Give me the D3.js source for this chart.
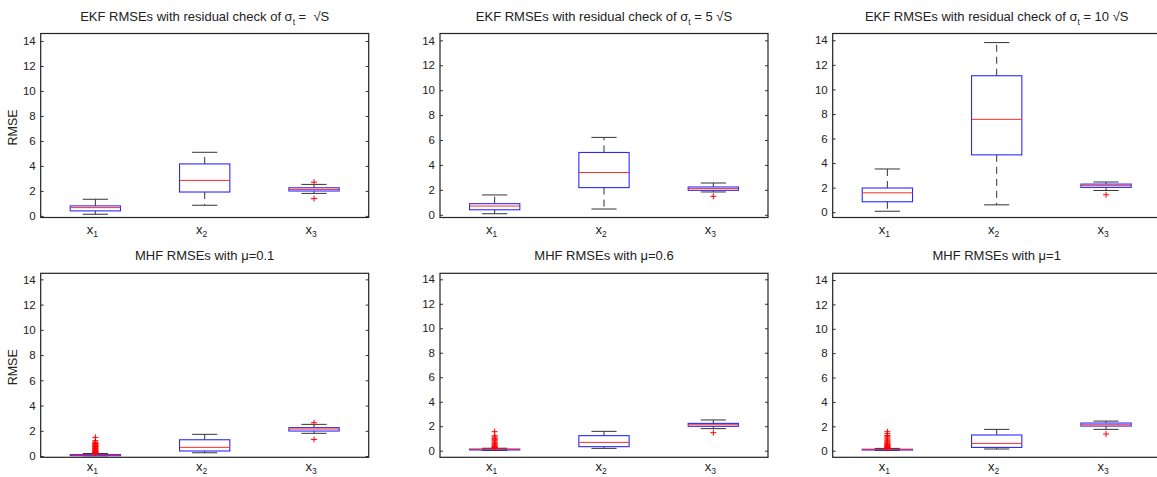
<!DOCTYPE html>
<html lang="en">
<head>
  <meta charset="UTF-8" />
  <title>RMSE boxplots</title>
  <script src="https://cdn.jsdelivr.net/npm/d3@7"></script>
  <style>
    body { margin: 0; background: #fff; }
    text { font-family: "Liberation Sans", Arial, Helvetica, sans-serif; fill: #222; }
  </style>
</head>
<body>
<script>
  // categories on the x axis
  const categories = ["1", "2", "3"];
  const yTicks = [0, 2, 4, 6, 8, 10, 12, 14];

  // panel titles: [text before subscript, subscript, text after]
  const titles = [
    ["EKF RMSEs with residual check of \u03c3", "t", " =\u00a0 \u221aS"],
    ["EKF RMSEs with residual check of \u03c3", "t", " = 5 \u221aS"],
    ["EKF RMSEs with residual check of \u03c3", "t", " = 10 \u221aS"],
    ["MHF RMSEs with \u03bc=0.1", "", ""],
    ["MHF RMSEs with \u03bc=0.6", "", ""],
    ["MHF RMSEs with \u03bc=1", "", ""]
  ];

  // y limits of each panel
  const yLo = [-0.13, -0.22, -0.43, -0.1, -0.54, -0.54];
  const yHi = [14.6, 14.55, 14.55, 14.48, 14.49, 14.55];

  // box stats per category: [lower whisker, q1, median, q3, upper whisker]
  const ekf1 = [[0.13, 0.4, 0.66, 0.8, 1.33], [0.85, 1.91, 2.84, 4.16, 5.09], [1.8, 1.99, 2.12, 2.25, 2.52]];
  const ekf5 = [[0.08, 0.4, 0.7, 0.89, 1.59], [0.46, 2.18, 3.39, 5.0, 6.21], [1.83, 1.96, 2.1, 2.23, 2.55]];
  const ekf10 = [[0.08, 0.85, 1.58, 1.97, 3.52], [0.6, 4.67, 7.56, 11.11, 13.81], [1.77, 2.02, 2.16, 2.29, 2.46]];
  const mhf01 = [[0.02, 0.03, 0.08, 0.12, 0.2], [0.26, 0.4, 0.69, 1.29, 1.72], [1.8, 1.98, 2.14, 2.25, 2.51]];
  const mhf06 = [[0.02, 0.06, 0.1, 0.13, 0.2], [0.19, 0.33, 0.68, 1.23, 1.58], [1.8, 1.99, 2.12, 2.23, 2.51]];
  const mhf1 = [[0.02, 0.06, 0.09, 0.12, 0.19], [0.14, 0.27, 0.6, 1.29, 1.75], [1.75, 2.02, 2.13, 2.27, 2.43]];

  // outliers per category
  const ekf1Out = [[], [], [2.7, 1.38]];
  const ekf5Out = [[], [], [1.48]];
  const ekf10Out = [[], [], [1.42]];
  const mhf01Out = [[0.22, 0.25, 0.28, 0.31, 0.34, 0.38, 0.42, 0.46, 0.5, 0.55, 0.6, 0.65, 0.7, 0.75, 0.8, 0.85, 0.9, 0.95, 1.0, 1.05, 1.1, 1.22, 1.48], [], [2.64, 1.32]];
  const mhf06Out = [[0.22, 0.26, 0.3, 0.35, 0.4, 0.48, 0.55, 0.62, 0.7, 0.8, 0.88, 0.95, 1.02, 1.12, 1.22, 1.55], [], [1.47]];
  const mhf1Out = [[0.2, 0.24, 0.28, 0.32, 0.36, 0.4, 0.45, 0.5, 0.56, 0.62, 0.7, 0.78, 0.86, 0.95, 1.05, 1.15, 1.25, 1.4, 1.56], [], [1.37]];

  const stats = [ekf1, ekf5, ekf10, mhf01, mhf06, mhf1];
  const outliers = [ekf1Out, ekf5Out, ekf10Out, mhf01Out, mhf06Out, mhf1Out];

  const width = 1157, height = 477;
  const colLeft = [40.7, 440, 832.7];
  const rowTop = [33.5, 273.3];
  const plotW = 328, plotH = 184;
  const boxW = 0.46;

  const svg = d3.select("body").append("svg")
    .attr("width", width).attr("height", height);

  stats.forEach((panel, p) => {
    const col = p % 3, row = Math.floor(p / 3);
    const g = svg.append("g")
      .attr("transform", `translate(${colLeft[col]},${rowTop[row]})`);

    const x = d3.scaleLinear().domain([0.5, 3.5]).range([0, plotW]);
    const y = d3.scaleLinear().domain([yLo[p], yHi[p]]).range([plotH, 0]);

    // left axis with inward ticks
    const ay = g.append("g")
      .call(d3.axisLeft(y).tickValues(yTicks).tickSize(-3).tickPadding(5).tickFormat(d3.format("d")));
    ay.select(".domain").remove();
    ay.selectAll("line").attr("stroke", "#333");
    ay.selectAll("text").style("font-size", "11.5px").attr("fill", "#222");

    // right side ticks
    const ar = g.append("g").attr("transform", `translate(${plotW},0)`)
      .call(d3.axisRight(y).tickValues(yTicks).tickSize(-3).tickFormat(""));
    ar.select(".domain").remove();
    ar.selectAll("line").attr("stroke", "#333");

    // frame
    g.append("rect")
      .attr("width", plotW).attr("height", plotH)
      .attr("fill", "none").attr("stroke", "#222").attr("stroke-width", 1.2);

    // x labels
    const xl = g.selectAll(".xlab").data(categories).join("text")
      .attr("class", "xlab")
      .attr("x", (d, i) => x(i + 1) - 3)
      .attr("y", plotH + (row === 0 ? 16 : 14))
      .attr("text-anchor", "middle")
      .style("font-size", "13px");
    xl.append("tspan").text("x");
    xl.append("tspan").attr("dy", 3).style("font-size", "8.5px").text(d => d);

    // whiskers (dashed)
    panel.forEach((s, i) => {
      const cx = x(i + 1);
      const capW = (x(1 + boxW / 4) - x(1));
      g.append("line").attr("x1", cx).attr("x2", cx)
        .attr("y1", y(s[3])).attr("y2", y(s[4]))
        .attr("stroke", "#333").attr("stroke-dasharray", "7,5");
      g.append("line").attr("x1", cx).attr("x2", cx)
        .attr("y1", y(s[1])).attr("y2", y(s[0]))
        .attr("stroke", "#333").attr("stroke-dasharray", "7,5");
      [s[0], s[4]].forEach(v => {
        g.append("line").attr("x1", cx - capW).attr("x2", cx + capW)
          .attr("y1", y(v)).attr("y2", y(v))
          .attr("stroke", "#333");
      });
    });

    // boxes
    g.selectAll(".box").data(panel).join("rect")
      .attr("class", "box")
      .attr("x", (d, i) => x(i + 1 - boxW / 2))
      .attr("width", x(1 + boxW / 2) - x(1 - boxW / 2))
      .attr("y", d => y(d[3]))
      .attr("height", d => Math.max(y(d[1]) - y(d[3]), 0.5))
      .attr("fill", "none").attr("stroke", "#2a2aff").attr("stroke-width", 1.1);

    // medians
    g.selectAll(".med").data(panel).join("line")
      .attr("class", "med")
      .attr("x1", (d, i) => x(i + 1 - boxW / 2))
      .attr("x2", (d, i) => x(i + 1 + boxW / 2))
      .attr("y1", d => y(d[2])).attr("y2", d => y(d[2]))
      .attr("stroke", "#ff2a2a").attr("stroke-width", 1);

    // outliers as red plus signs
    outliers[p].forEach((vals, i) => {
      g.selectAll(null).data(vals).join("path")
        .attr("transform", d => `translate(${x(i + 1)},${y(d)})`)
        .attr("d", "M-3,0H3M0,-3V3")
        .attr("stroke", "#ff0000").attr("stroke-width", 1).attr("fill", "none");
    });

    // title
    const t = titles[p];
    const tt = g.append("text")
      .attr("x", plotW / 2)
      .attr("y", -13)
      .attr("text-anchor", "middle")
      .style("font-size", "13px");
    tt.append("tspan").text(t[0]);
    if (t[1]) {
      tt.append("tspan").attr("dy", 4).style("font-size", "8.5px").text(t[1]);
      tt.append("tspan").attr("dy", -4).text(t[2]);
    }

    // y label on the left column
    if (col === 0) {
      g.append("text")
        .attr("transform", `translate(-24,${plotH / 2 + 2}) rotate(-90)`)
        .attr("text-anchor", "middle")
        .style("font-size", "12.5px")
        .text("RMSE");
    }
  });
</script>
</body>
</html>
